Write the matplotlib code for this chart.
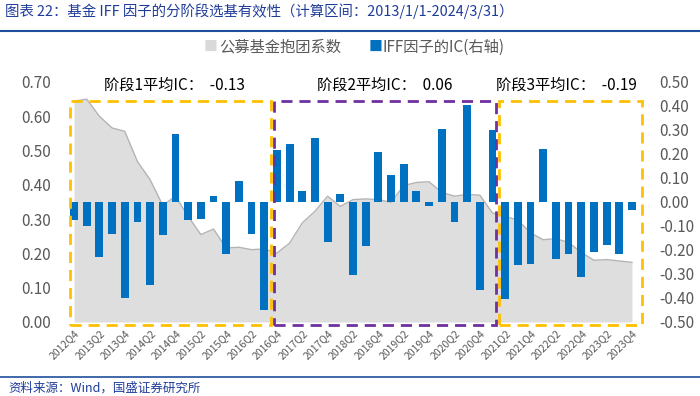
import matplotlib.pyplot as plt
from matplotlib.patches import Rectangle

plt.rcParams['font.family'] = ['Noto Sans CJK SC', 'DejaVu Sans']

# 季度标签 2012Q4 - 2023Q4
quarters = []
for y in range(2012, 2024):
    for q in range(1, 5):
        if (y, q) >= (2012, 4):
            quarters.append(f"{y}Q{q}")

# 公募基金抱团系数（左轴）
baotuan = [0.644, 0.650, 0.600, 0.566, 0.556, 0.468, 0.415, 0.340, 0.367, 0.308,
           0.255, 0.271, 0.216, 0.218, 0.211, 0.213, 0.201, 0.230, 0.289, 0.323,
           0.367, 0.337, 0.357, 0.359, 0.357, 0.349, 0.398, 0.407, 0.409, 0.378,
           0.367, 0.372, 0.370, 0.318, 0.308, 0.297, 0.260, 0.240, 0.243, 0.232,
           0.203, 0.180, 0.182, 0.178, 0.174]

# IFF因子的IC（右轴）
ic = [-0.074, -0.099, -0.229, -0.132, -0.400, -0.082, -0.347, -0.136, 0.285, -0.074,
      -0.071, 0.026, -0.215, 0.089, -0.132, -0.451, 0.218, 0.243, 0.044, 0.265,
      -0.168, 0.032, -0.303, -0.182, 0.208, 0.114, 0.158, 0.047, -0.018, 0.306,
      -0.082, 0.403, -0.365, 0.299, -0.403, -0.264, -0.257, 0.221, -0.236, -0.215,
      -0.314, -0.207, -0.178, -0.215, -0.032]

# 阶段划分（起止序号）及平均IC文字
stages = [(0, 15), (16, 33), (34, 44)]
stage_labels = ["阶段1平均IC：  -0.13", "阶段2平均IC：  0.06", "阶段3平均IC：  -0.19"]
stage_colors = ["#FFC000", "#7030A0", "#FFC000"]

GRAY_TXT = "#595959"
BLUE = "#0070C0"
TITLE_BLUE = "#1F3C99"

W, H = 700, 396
fig = plt.figure(figsize=(7, 3.96), dpi=100)

x = list(range(len(quarters)))

ax = fig.add_axes([67.7 / W, 74 / H, 570.6 / W, 240 / H])
ax.fill_between(x, baotuan, 0, color="#DEDEDE", linewidth=0, zorder=1)
ax.plot(x, baotuan, color="#B4B4B4", linewidth=1, zorder=2)
ax.set_xlim(-0.5, len(quarters) - 0.5)
ax.set_ylim(0, 0.7)
ax.set_yticks([i / 10 for i in range(8)])
ax.set_yticklabels([f"{i / 10:.2f}" for i in range(8)])

ax2 = ax.twinx()
ax2.bar(x, ic, width=0.62, color=BLUE, zorder=3)
ax2.set_ylim(-0.5, 0.5)
ax2.set_yticks([i / 10 for i in range(-5, 6)])
ax2.set_yticklabels([f"{i / 10:.2f}" for i in range(-5, 6)])

ax.set_xticks(x[::2])
ax.set_xticklabels(quarters[::2], rotation=45, ha="right", rotation_mode="anchor",
                   fontsize=7.5, color=GRAY_TXT)

for a in (ax, ax2):
    for s in a.spines.values():
        s.set_visible(False)
    a.tick_params(length=0)
ax.tick_params(axis="y", labelsize=11, labelcolor=GRAY_TXT, pad=12)
ax2.tick_params(axis="y", labelsize=11, labelcolor=GRAY_TXT, pad=15)
ax.tick_params(axis="x", pad=4)

# 阶段虚线框
box_left = [-0.3, 15.75, 33.55]
box_right = [15.55, 33.25, 44.8]
for (s, e), lab, col, l, r in zip(stages, stage_labels, stage_colors, box_left, box_right):
    rect = Rectangle((l, -0.008), r - l, 0.652, transform=ax.transData, fill=False,
                     edgecolor=col, linewidth=2, linestyle=(0, (4, 2.5)),
                     clip_on=False, zorder=5)
    ax2.add_patch(rect)

ax.text(7.9, 0.69, stage_labels[0], ha="center", va="center", fontsize=11, color="black")
ax.text(24.5, 0.69, stage_labels[1], ha="center", va="center", fontsize=11, color="black")
ax.text(38.8, 0.69, stage_labels[2], ha="center", va="center", fontsize=11, color="black")

# 图例
ly = 1 - 47 / H
fig.text(211 / W, ly, "■", color="#D9D9D9", fontsize=10, ha="center", va="center")
fig.text(219 / W, ly, "公募基金抱团系数", color=GRAY_TXT, fontsize=11, ha="left", va="center")
fig.text(376 / W, ly, "■", color=BLUE, fontsize=10, ha="center", va="center")
fig.text(383 / W, ly, "IFF因子的IC(右轴)", color=GRAY_TXT, fontsize=11, ha="left", va="center")

# 标题与来源
fig.text(5 / W, 1 - 11 / H, "图表 22：基金 IFF 因子的分阶段选基有效性（计算区间：2013/1/1-2024/3/31）",
         color=TITLE_BLUE, fontsize=10.4, ha="left", va="center", style="italic")
fig.add_artist(plt.Line2D([0, 1], [1 - 31 / H, 1 - 31 / H], color="#1F4E9A", linewidth=1.5))
fig.add_artist(plt.Line2D([0, 1], [1 - 377 / H, 1 - 377 / H], color="#1F4E9A", linewidth=1.2))
fig.text(8 / W, 1 - 388 / H, "资料来源：Wind，国盛证券研究所", color=TITLE_BLUE,
         fontsize=9, ha="left", va="center", style="italic")

fig.savefig("out.png", dpi=100)
